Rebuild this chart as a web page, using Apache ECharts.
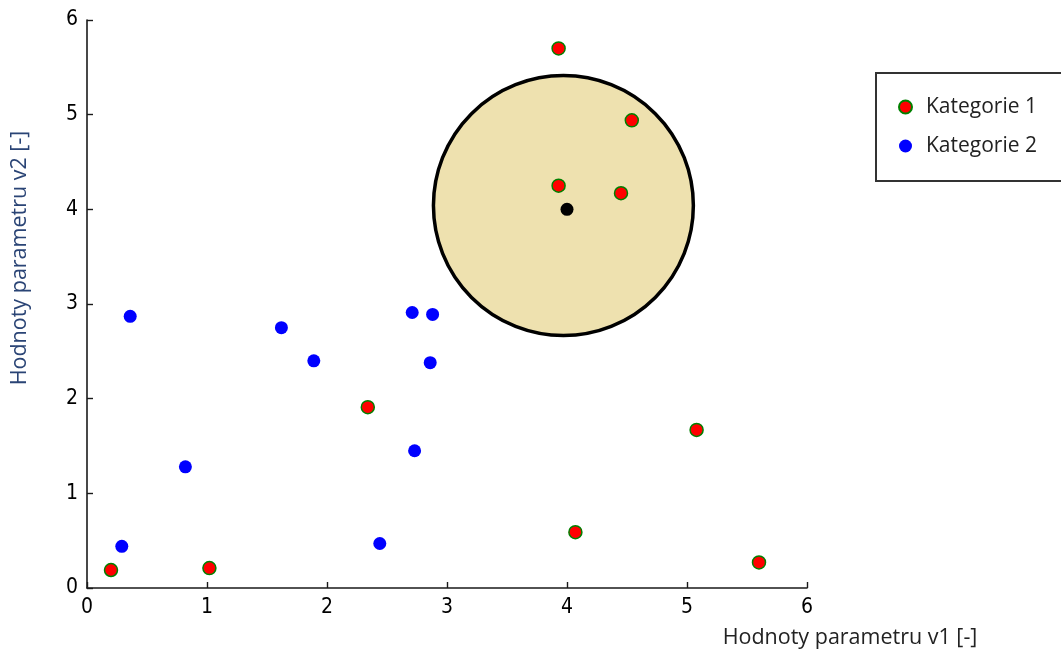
<!DOCTYPE html>
<html>
<head>
<meta charset="utf-8">
<title>Kategorie v1 / v2</title>
<script src="https://cdn.jsdelivr.net/npm/echarts@6/dist/echarts.min.js"></script>
<style>
  html, body { margin: 0; padding: 0; background: #ffffff; }
  #chart { width: 1061px; height: 651px; }
</style>
</head>
<body>
<div id="chart"></div>
<script>
// Measured points, [v1, v2]
const kategorie1 = [
  [3.93, 5.70], [4.54, 4.94], [3.93, 4.25], [4.45, 4.17],
  [2.34, 1.91], [5.08, 1.67], [4.07, 0.59], [5.60, 0.27],
  [0.20, 0.19], [1.02, 0.21]
];
const kategorie2 = [
  [0.36, 2.87], [1.62, 2.75], [1.89, 2.40], [2.71, 2.91],
  [2.88, 2.89], [2.86, 2.38], [2.73, 1.45], [0.82, 1.28],
  [0.29, 0.44], [2.44, 0.47]
];
// Query point and its neighbourhood circle (radius in v1 units)
const queryPoint = [[4.0, 4.0]];
const circleCenter = [3.97, 4.04];
const circleRadius = 1.083;

const axisTicks = [0, 1, 2, 3, 4, 5, 6];
const seriesNames = ['Kategorie 1', 'Kategorie 2'];
const xTitle = 'Hodnoty parametru v1 [-]';
const yTitle = 'Hodnoty parametru v2 [-]';

const chart = echarts.init(document.getElementById('chart'), null, { renderer: 'canvas' });

const tickFont = { color: '#000', fontFamily: '"Liberation Sans Narrow", "DejaVu Sans Condensed", "Liberation Sans"', fontSize: 21 };
const textFont = 'Open Sans';

function valueAxis(margin) {
  return {
    type: 'value',
    min: axisTicks[0],
    max: axisTicks[axisTicks.length - 1],
    interval: 1,
    splitLine: { show: false },
    axisLine: { show: true, onZero: false, lineStyle: { color: '#1a1a1a', width: 1.6 } },
    axisTick: { show: true, inside: true, length: 6, lineStyle: { color: '#1a1a1a', width: 1.4 } },
    axisLabel: Object.assign({ margin: margin }, tickFont)
  };
}

chart.setOption({
  backgroundColor: '#ffffff',
  animation: false,
  grid: { left: 87, right: 254, top: 20, bottom: 63, containLabel: false },
  xAxis: valueAxis(9),
  yAxis: valueAxis(9),
  legend: {
    data: seriesNames,
    orient: 'vertical',
    left: 876,
    top: 73,
    icon: 'circle',
    itemWidth: 13,
    itemHeight: 13,
    itemGap: 15,
    padding: [22, 40, 23, 22],
    borderColor: '#333',
    borderWidth: 2,
    backgroundColor: '#ffffff',
    textStyle: {
      fontFamily: textFont,
      fontSize: 21,
      color: '#222',
      lineHeight: 24,
      padding: [0, 0, 0, 9]
    }
  },
  graphic: [
    {
      type: 'text',
      x: 850, y: 638,
      style: {
        text: xTitle, fill: '#222', font: '21.5px "Open Sans"',
        textAlign: 'center', textVerticalAlign: 'middle'
      }
    },
    {
      type: 'text',
      x: 20, y: 258,
      rotation: Math.PI / 2,
      style: {
        text: yTitle, fill: '#2a4475', font: '21.5px "Open Sans"',
        textAlign: 'center', textVerticalAlign: 'middle'
      }
    }
  ],
  series: [
    {
      type: 'custom',
      name: 'okoli',
      z: 1,
      clip: false,
      silent: true,
      data: [[circleCenter[0], circleCenter[1], circleRadius]],
      renderItem: function (params, api) {
        const c = api.coord([api.value(0), api.value(1)]);
        const r = api.size([api.value(2), 0])[0];
        return {
          type: 'circle',
          shape: { cx: c[0], cy: c[1], r: r },
          style: { fill: '#EEE1AF', stroke: '#000000', lineWidth: 3.5 }
        };
      }
    },
    {
      type: 'scatter',
      name: seriesNames[0],
      z: 3,
      symbol: 'circle',
      symbolSize: 13,
      data: kategorie1,
      itemStyle: { color: '#ff0000', borderColor: '#008000', borderWidth: 1.5, opacity: 1 }
    },
    {
      type: 'scatter',
      name: seriesNames[1],
      z: 3,
      symbol: 'circle',
      symbolSize: 13,
      data: kategorie2,
      itemStyle: { color: '#0000ff', opacity: 1 }
    },
    {
      type: 'scatter',
      name: 'bod',
      z: 3,
      symbol: 'circle',
      symbolSize: 13,
      data: queryPoint,
      itemStyle: { color: '#000000', opacity: 1 }
    }
  ]
});
</script>
</body>
</html>
